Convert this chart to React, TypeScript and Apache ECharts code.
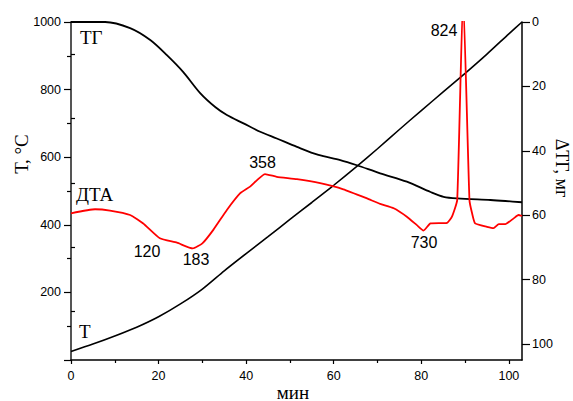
import React, { useEffect, useRef } from "react";
import * as echarts from "echarts";

// X axis (min)
const xMajorTicks = [0, 20, 40, 60, 80, 100];
const xMinorTicks = [10, 30, 50, 70, 90];
// Left axis (°C)
const leftLabels = [200, 400, 600, 800, 1000];
// Right axis (mg, inverted)
const rightMajorTicks = [0, 20, 40, 60, 80, 100];
const rightMinorTicks = [10, 30, 50, 70, 90];

// T curve (temperature, °C)
const tTime = [0, 5, 10, 15, 20, 25, 30, 35, 40, 45, 50, 55, 60, 65, 70, 75, 80, 85, 90, 95, 100, 103];
const tTemp = [25, 47, 71, 97, 128, 166, 210, 264, 315, 365, 416, 466, 517, 570, 625, 682, 738, 793, 848, 905, 965, 1000];

// TG curve (mass loss, mg, right axis)
const tgTime = [0, 7.8, 13.5, 18.1, 21.9, 25.6, 29.5, 33.0, 35.6, 39.4, 43.2, 47.0, 51.6, 56.5, 61.5, 65.3, 70.6, 76.7, 82.1, 85.1, 88.2, 95.8, 99.2, 103];
const tgMass = [0, 0, 1.9, 5.6, 10.3, 15.5, 22.1, 26.5, 28.9, 31.5, 34.1, 36.2, 38.8, 41.3, 42.9, 44.5, 47.0, 49.6, 52.8, 54.3, 54.8, 55.3, 55.6, 56.0];

// DTA curve (arbitrary units, drawn on left scale)
const dtaTime = [0, 5.5, 8.9, 13.5, 16.5, 20.3, 24.2, 27.8, 30.0, 32.5, 35.6, 38.6, 40.9, 44.3, 47.0, 51.6, 56.9, 62.2, 67.6, 70.6, 73.7, 76.7, 79.0, 80.5, 82.1, 85.9, 87.0, 88.2, 89.55, 91.0, 91.6, 92.3, 95.0, 96.5, 97.7, 99.2, 101.1, 102.2, 103];
const dtaVal = [434, 446, 442, 429, 404, 360, 347, 330, 345, 385, 444, 493, 513, 550, 542, 535, 523, 505, 478, 462, 449, 424, 399, 383, 404, 406, 424, 473, 1080, 473, 434, 404, 394, 390, 402, 402, 419, 429, 426];

// Peak annotations
const peakLabels = ["120", "183", "358", "730", "824"];

const SANS = '"Liberation Sans", Arial, sans-serif';
const SERIF = '"Liberation Serif", "Times New Roman", serif';

function pairs(xs: number[], ys: number[]) {
  return xs.map((x, i) => [x, ys[i]]);
}

function txt(text: string, x: number, y: number, size: number, family: string, align = "center", rotation = 0) {
  return {
    type: "text",
    x,
    y,
    rotation,
    silent: true,
    style: {
      text,
      x: 0,
      y: 0,
      fill: "#000",
      fontSize: size,
      fontFamily: family,
      align,
      verticalAlign: "middle",
      textAlign: align,
      textVerticalAlign: "middle",
    },
  };
}

export default function App() {
  const ref = useRef<HTMLDivElement>(null);
  useEffect(() => {
    if (!ref.current) return;
    const chart = echarts.init(ref.current, undefined, { renderer: "svg" });
    const labelStyle = {
      color: "#000",
      fontSize: 12.5,
      fontFamily: SANS,
      formatter: (v: number) => String(v),
    };
    const peakPos = [
      [147, 251],
      [196, 259],
      [262.5, 162],
      [424, 242],
      [444, 30],
    ];
    chart.setOption({
      animation: false,
      grid: { left: 71, right: 51, top: 22, bottom: 41, containLabel: false },
      xAxis: [
        {
          type: "value",
          min: 0,
          max: 103,
          axisLine: { show: true, onZero: false, lineStyle: { color: "#000", width: 1.5 } },
          axisTick: { show: true, customValues: xMajorTicks, length: 4, lineStyle: { color: "#000", width: 1.2 } },
          axisLabel: { show: true, customValues: xMajorTicks, margin: 9, ...labelStyle },
          splitLine: { show: false },
        },
        {
          type: "value",
          min: 0,
          max: 103,
          position: "bottom",
          axisLine: { show: false },
          axisTick: { show: true, customValues: xMinorTicks, length: 3, lineStyle: { color: "#000", width: 1.2 } },
          axisLabel: { show: false },
          splitLine: { show: false },
        },
      ],
      yAxis: [
        {
          type: "value",
          min: 0,
          max: 1000,
          interval: 200,
          position: "left",
          axisLine: { show: true, onZero: false, lineStyle: { color: "#555", width: 2 } },
          axisTick: { show: true, length: 7, lineStyle: { color: "#000", width: 1.2 } },
          minorTick: { show: true, splitNumber: 2, length: 4, lineStyle: { color: "#000", width: 1.2 } },
          axisLabel: { show: true, customValues: leftLabels, margin: 10, ...labelStyle },
          splitLine: { show: false },
        },
        {
          type: "value",
          min: 0,
          max: 105,
          inverse: true,
          position: "right",
          axisLine: { show: true, onZero: false, lineStyle: { color: "#000", width: 1.5 } },
          axisTick: { show: true, customValues: rightMajorTicks, length: 8, lineStyle: { color: "#000", width: 1.2 } },
          axisLabel: { show: true, customValues: rightMajorTicks, margin: 10, ...labelStyle },
          splitLine: { show: false },
        },
        {
          type: "value",
          min: 0,
          max: 105,
          inverse: true,
          position: "right",
          axisLine: { show: false },
          axisTick: { show: true, customValues: rightMinorTicks, length: 4, lineStyle: { color: "#000", width: 1.2 } },
          axisLabel: { show: false },
          splitLine: { show: false },
        },
      ],
      series: [
        {
          name: "Т",
          type: "line",
          xAxisIndex: 0,
          yAxisIndex: 0,
          data: pairs(tTime, tTemp),
          showSymbol: false,
          smooth: 0.25,
          lineStyle: { color: "#000", width: 1.6 },
        },
        {
          name: "ТГ",
          type: "line",
          xAxisIndex: 0,
          yAxisIndex: 1,
          data: pairs(tgTime, tgMass),
          showSymbol: false,
          smooth: 0.3,
          lineStyle: { color: "#000", width: 1.8 },
        },
        {
          name: "ДТА",
          type: "line",
          xAxisIndex: 0,
          yAxisIndex: 0,
          data: pairs(dtaTime, dtaVal),
          showSymbol: false,
          smooth: 0.15,
          clip: true,
          lineStyle: { color: "#ff0000", width: 1.8 },
        },
      ],
      graphic: [
        txt("ТГ", 80, 37, 19, SERIF, "left"),
        txt("ДТА", 76, 194, 19, SERIF, "left"),
        txt("Т", 79, 331, 19, SERIF, "left"),
        txt("мин", 293, 392, 19, SERIF),
        txt("Т, °С", 21, 154, 19, SERIF, "center", Math.PI / 2),
        txt("ΔТГ, мг", 562, 168, 18, SERIF, "center", -Math.PI / 2),
        ...peakLabels.map((t, i) => txt(t, peakPos[i][0], peakPos[i][1], 16, SANS)),
      ],
    });
    return () => chart.dispose();
  }, []);
  return (
    <div
      ref={ref}
      style={{ position: "fixed", left: 0, top: 0, width: 573, height: 401, background: "#fff" }}
    />
  );
}
